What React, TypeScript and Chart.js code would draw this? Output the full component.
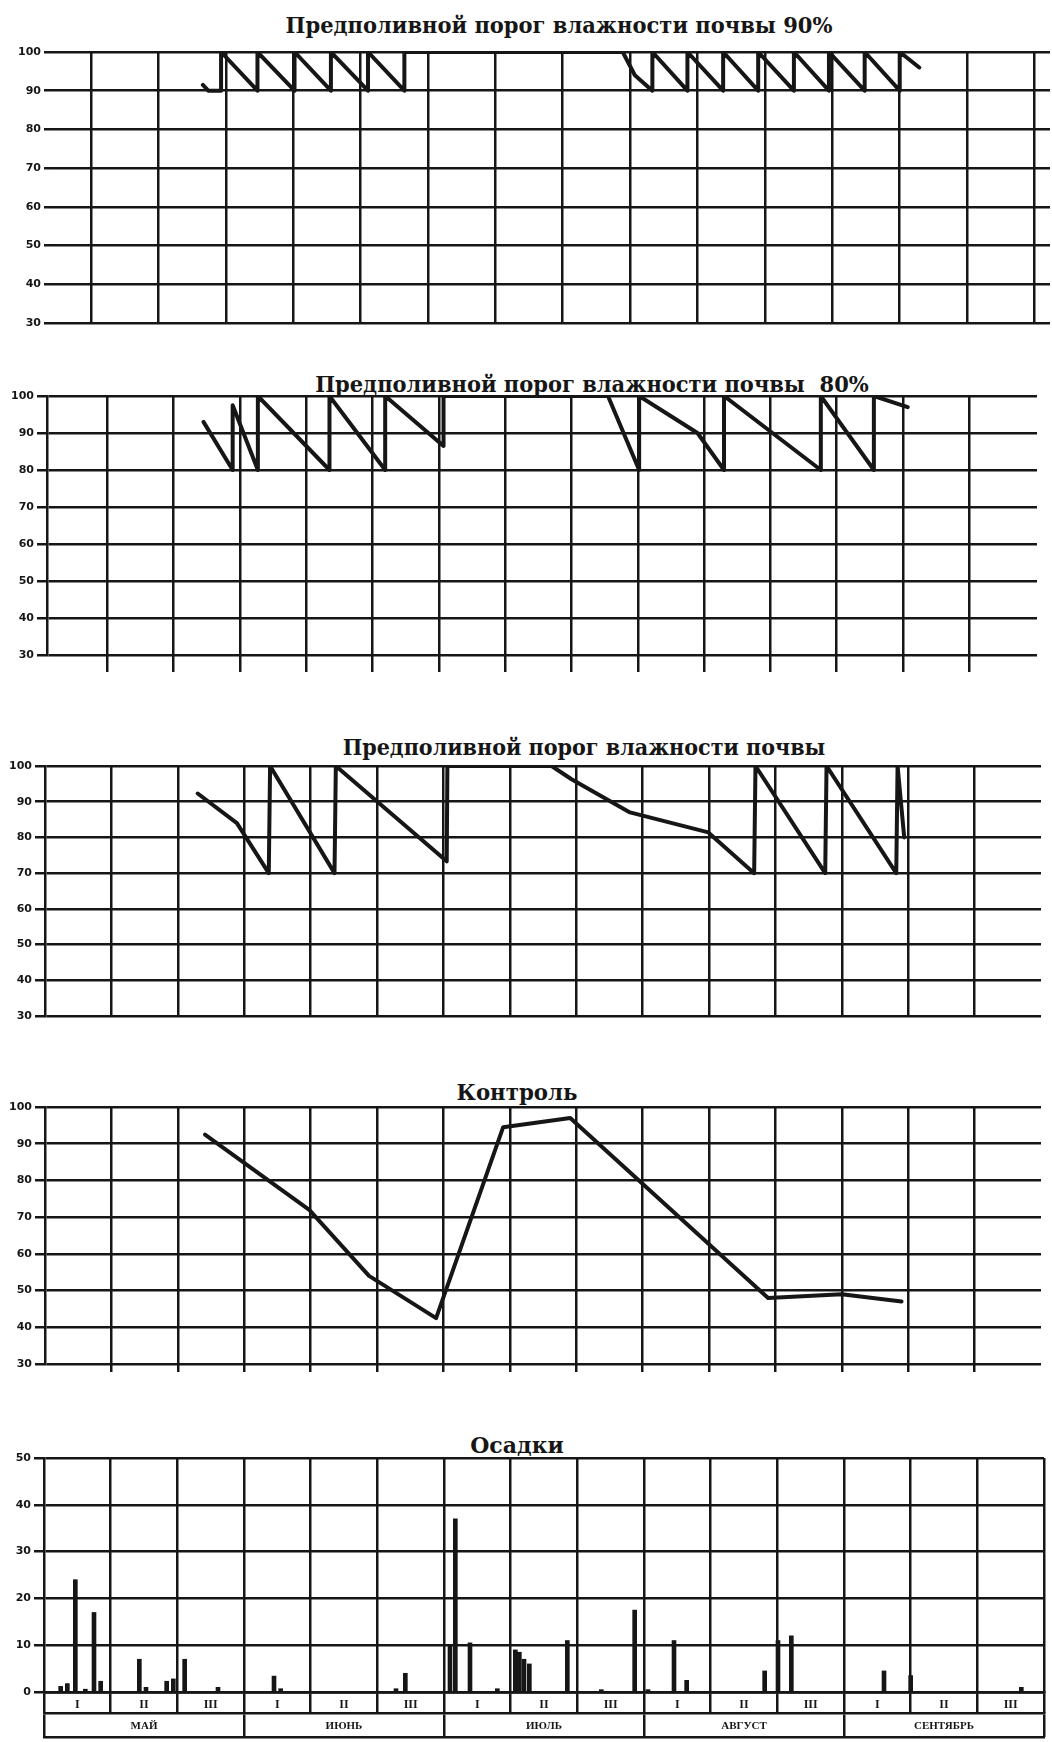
import React, { useEffect, useRef } from "react";
import { Chart, registerables } from "chart.js";

Chart.register(...registerables);

const INK = "#161616";

// ---- axis labels ----
const decadeLabels = ["I", "II", "III", "I", "II", "III", "I", "II", "III", "I", "II", "III", "I", "II", "III"];
const monthLabels = ["МАЙ", "ИЮНЬ", "ИЮЛЬ", "АВГУСТ", "СЕНТЯБРЬ"];
const moistureTicks = [30, 40, 50, 60, 70, 80, 90, 100];
const rainTicks = [0, 10, 20, 30, 40, 50];
const decadeLines = [1, 2, 3, 4, 5, 6, 7, 8, 9, 10, 11, 12, 13, 14, 15];

// ---- series (x = decades since 1 May, y = soil moisture %) ----
const p90X = [2.66, 2.74, 2.93, 2.93, 3.47, 3.47, 4.02, 4.02, 4.56, 4.56, 5.11, 5.11, 5.65, 5.65, 8.89, 9.07, 9.33, 9.33, 9.85, 9.85, 10.38, 10.38, 10.9, 10.9, 11.43, 11.43, 11.95, 11.95, 12.48, 12.48, 13.0, 13.0, 13.29];
const p90Y = [91.5, 90, 90, 100, 90, 100, 90, 100, 90, 100, 90, 100, 90, 100, 100, 94, 90, 100, 90, 100, 90, 100, 90, 100, 90, 100, 90, 100, 90, 100, 90, 100, 96];

const p80X = [2.45, 2.89, 2.89, 3.27, 3.27, 4.35, 4.35, 5.19, 5.19, 6.07, 6.07, 8.55, 9.02, 9.02, 9.9, 10.3, 10.3, 11.76, 11.76, 12.56, 12.56, 13.07];
const p80Y = [93, 80, 97.5, 80, 100, 80, 100, 80, 100, 86.5, 100, 100, 80, 100, 90, 80, 100, 80, 100, 80, 100, 97];

const pLowX = [2.3, 2.89, 3.37, 3.39, 4.36, 4.38, 6.05, 6.06, 7.63, 7.93, 8.81, 9.99, 10.68, 10.7, 11.75, 11.77, 12.82, 12.84, 12.94];
const pLowY = [92.3, 84, 70, 100, 70, 100, 73.3, 100, 100, 96.3, 87, 81.4, 70, 100, 70, 100, 70, 100, 80];

const controlX = [2.41, 3.98, 4.88, 5.89, 6.9, 7.91, 10.89, 12.0, 12.9];
const controlY = [92.5, 72, 54, 42.5, 94.5, 97, 48, 49, 47];

const rainX = [0.25, 0.35, 0.47, 0.62, 0.75, 0.85, 1.43, 1.53, 1.84, 1.94, 2.11, 2.61, 3.45, 3.55, 5.28, 5.42, 6.09, 6.17, 6.39, 6.8, 7.07, 7.13, 7.2, 7.28, 7.85, 8.36, 8.86, 9.06, 9.45, 9.64, 10.81, 11.01, 11.21, 12.6, 13.0, 14.66];
const rainMm = [1.2, 1.8, 24, 0.6, 17, 2.3, 7, 1, 2.3, 2.8, 7, 1, 3.4, 0.7, 0.7, 4, 10, 37, 10.5, 0.7, 9, 8.5, 7, 6, 11, 0.5, 17.5, 0.5, 11, 2.5, 4.5, 11, 12, 4.5, 3.5, 1];

// ---- titles ----
const titles = [
  { text: "Предполивной порог влажности почвы 90%", cx: 559, cy: 25, w: 547 },
  { text: "Предполивной порог влажности почвы  80%", cx: 592, cy: 384, w: 554 },
  { text: "Предполивной порог влажности почвы", cx: 584, cy: 747, w: 483 },
  { text: "Контроль", cx: 517, cy: 1092, w: 121 },
  { text: "Осадки", cx: 517, cy: 1445, w: 94 },
];

const tickFont = { family: "DejaVu Sans", size: 11, weight: "bold" as const };
const rowFont = { family: "Liberation Serif", size: 12, weight: "bold" as const };
const monthFont = { family: "Liberation Serif", size: 11, weight: "bold" as const };

type MoistOpts = {
  L: number; R: number; padTop: number; padBottom: number;
  xMin: number; xMax: number; lastLine: number; below: number; leftBorder: boolean;
};

function moistureConfig(xs: number[], ys: number[], o: MoistOpts): any {
  return {
    type: "line",
    data: {
      datasets: [{
        data: xs.map((x, i) => ({ x, y: ys[i] })),
        borderColor: INK,
        borderWidth: 4,
        pointRadius: 0,
        tension: 0,
        borderJoinStyle: "round",
        borderCapStyle: "round",
        xAxisID: "x",
        yAxisID: "y",
      }],
    },
    options: {
      animation: false,
      responsive: false,
      devicePixelRatio: 1,
      events: [],
      layout: { padding: { left: 0, right: 1052 - o.R, top: o.padTop, bottom: o.padBottom } },
      plugins: { legend: { display: false }, tooltip: { enabled: false }, title: { display: false } },
      scales: {
        x: {
          type: "linear", min: o.xMin, max: o.xMax,
          afterBuildTicks: (s: any) => { s.ticks = decadeLines.filter((v) => v <= o.lastLine).map((v) => ({ value: v })); },
          ticks: { display: false },
          grid: { color: INK, lineWidth: 2.5, drawTicks: o.below > 0, tickLength: o.below },
          border: { display: false },
          afterFit: (s: any) => { s.height = o.below; },
        },
        y: {
          type: "linear", min: 30, max: 100,
          afterBuildTicks: (s: any) => { s.ticks = moistureTicks.map((v) => ({ value: v })); },
          ticks: { color: INK, font: tickFont, padding: 3 },
          grid: { color: INK, lineWidth: 2.5, tickLength: 10 },
          border: { display: o.leftBorder, color: INK, width: 2.5 },
          afterFit: (s: any) => { s.width = o.L; },
        },
      },
    },
  };
}

function rainConfig(): any {
  const L = 44, R = 1044;
  return {
    type: "bar",
    data: {
      datasets: [{
        data: rainX.map((x, i) => ({ x, y: rainMm[i] })),
        backgroundColor: INK,
        borderWidth: 0,
        barThickness: 4,
        xAxisID: "x",
        yAxisID: "y",
      }],
    },
    options: {
      animation: false,
      responsive: false,
      devicePixelRatio: 1,
      events: [],
      layout: { padding: { left: 0, right: 1052 - R, top: 12, bottom: 3 } },
      plugins: { legend: { display: false }, tooltip: { enabled: false }, title: { display: false } },
      scales: {
        x: {
          type: "linear", min: 0, max: 15, offset: false, weight: 0,
          afterBuildTicks: (s: any) => { s.ticks = decadeLines.map((v) => ({ value: v })); },
          ticks: { display: false },
          grid: { color: INK, lineWidth: 2.5, drawTicks: false, offset: false },
          border: { display: true, color: INK, width: 2.5 },
          afterFit: (s: any) => { s.height = 0; },
        },
        dec: {
          type: "category", axis: "x", position: "bottom", labels: decadeLabels, offset: true, weight: 1,
          grid: { offset: true, drawOnChartArea: false, color: INK, lineWidth: 2.5, tickLength: 21 },
          ticks: { color: INK, font: rowFont, padding: -15, autoSkip: false, maxRotation: 0, minRotation: 0 },
          border: { display: true, color: INK, width: 2.5 },
          afterFit: (s: any) => { s.height = 21; },
        },
        mon: {
          type: "category", axis: "x", position: "bottom", labels: monthLabels, offset: true, weight: 2,
          grid: { offset: true, drawOnChartArea: false, color: INK, lineWidth: 2.5, tickLength: 24 },
          ticks: { color: INK, font: monthFont, padding: -17, autoSkip: false, maxRotation: 0, minRotation: 0 },
          border: { display: true, color: INK, width: 2.5 },
          afterFit: (s: any) => { s.height = 24; },
        },
        bot: {
          type: "category", axis: "x", position: "bottom", labels: [""], weight: 3,
          grid: { drawOnChartArea: false, drawTicks: false, color: "rgba(0,0,0,0)" },
          ticks: { display: false },
          border: { display: true, color: INK, width: 2.5 },
          afterFit: (s: any) => { s.height = 2; },
        },
        y: {
          type: "linear", min: 0, max: 50,
          afterBuildTicks: (s: any) => { s.ticks = rainTicks.map((v) => ({ value: v })); },
          ticks: { color: INK, font: tickFont, padding: 3 },
          grid: { color: INK, lineWidth: 2.5, tickLength: 10 },
          border: { display: true, color: INK, width: 2.5 },
          afterFit: (s: any) => { s.width = L; },
        },
      },
    },
  };
}

function ChartCanvas({ top, height, build }: { top: number; height: number; build: () => any }) {
  const ref = useRef<HTMLCanvasElement>(null);
  useEffect(() => {
    const chart = new Chart(ref.current as HTMLCanvasElement, build());
    return () => chart.destroy();
  }, []);
  return (
    <canvas
      ref={ref}
      width={1052}
      height={height}
      style={{ position: "absolute", left: 0, top, width: 1052, height }}
    />
  );
}

function Title({ text, cx, cy, w }: { text: string; cx: number; cy: number; w: number }) {
  const ref = useRef<HTMLSpanElement>(null);
  useEffect(() => {
    const el = ref.current;
    if (!el) return;
    const actual = el.offsetWidth || w;
    el.style.transform = `translate(-50%, -50%) scaleX(${w / actual})`;
  }, [text, w]);
  return (
    <span
      ref={ref}
      style={{
        position: "absolute",
        left: cx,
        top: cy,
        whiteSpace: "pre",
        font: 'bold 22px "DejaVu Serif"',
        lineHeight: "22px",
        color: INK,
        transform: "translate(-50%, -50%)",
      }}
    >
      {text}
    </span>
  );
}

export default function App() {
  return (
    <div style={{ position: "absolute", left: 0, top: 0, width: 1052, height: 1742, background: "#ffffff", overflow: "hidden" }}>
      {titles.map((t) => (
        <Title key={t.text} text={t.text} cx={t.cx} cy={t.cy} w={t.w} />
      ))}
      <ChartCanvas
        top={40}
        height={293}
        build={() => moistureConfig(p90X, p90Y, { L: 54, R: 1050, padTop: 12, padBottom: 10, xMin: 0.451, xMax: 15.23, lastLine: 15, below: 0, leftBorder: false })}
      />
      <ChartCanvas
        top={384}
        height={298}
        build={() => moistureConfig(p80X, p80Y, { L: 47, R: 1037, padTop: 12, padBottom: 10, xMin: 0.09, xMax: 15.02, lastLine: 14, below: 17, leftBorder: true })}
      />
      <ChartCanvas
        top={754}
        height={272}
        build={() => moistureConfig(pLowX, pLowY, { L: 45, R: 1041, padTop: 12, padBottom: 10, xMin: 0, xMax: 15, lastLine: 14, below: 0, leftBorder: true })}
      />
      <ChartCanvas
        top={1095}
        height={287}
        build={() => moistureConfig(controlX, controlY, { L: 45, R: 1041, padTop: 12, padBottom: 10, xMin: 0, xMax: 15, lastLine: 14, below: 8, leftBorder: true })}
      />
      <ChartCanvas top={1446} height={296} build={rainConfig} />
    </div>
  );
}
